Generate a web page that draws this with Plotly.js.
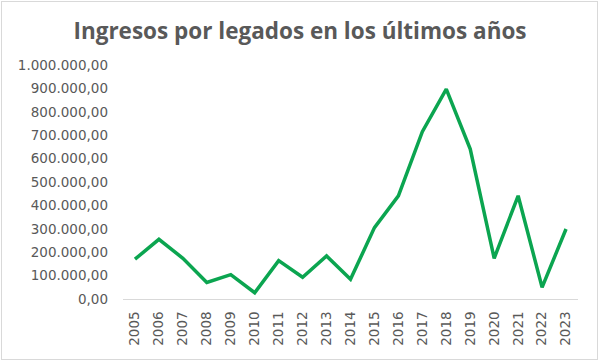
<!DOCTYPE html>
<html>
<head>
<meta charset="utf-8">
<script src="https://cdn.plot.ly/plotly-3.0.1.min.js"></script>
<style>
html,body{margin:0;padding:0;background:#fff;}
#wrap{position:absolute;left:0;top:0;width:600px;height:362px;}
#frame{position:absolute;left:1px;top:1px;width:595px;height:357px;border:1px solid #d9d9d9;pointer-events:none;}
#chart{width:600px;height:362px;}
</style>
</head>
<body>
<div id="wrap">
<div id="chart"></div>
<div id="frame"></div>
</div>
<script>
const years = ['2005','2006','2007','2008','2009','2010','2011','2012','2013','2014','2015','2016','2017','2018','2019','2020','2021','2022','2023'];
const ingresos = [170000, 255000, 174000, 71000, 104000, 27000, 164000, 93000, 184000, 84000, 305000, 441000, 715000, 897000, 641000, 174000, 441000, 50000, 299000];
const yTicks = [0, 100000, 200000, 300000, 400000, 500000, 600000, 700000, 800000, 900000, 1000000];

const tickFont = {family: 'DejaVu Sans, sans-serif', size: 13.5, color: '#595959'};

Plotly.newPlot('chart', [{
  x: years,
  y: ingresos,
  type: 'scatter',
  mode: 'lines',
  line: {color: '#0ba550', width: 3.5},
  hoverinfo: 'skip'
}], {
  width: 600, height: 362,
  margin: {l: 123, r: 22, t: 65, b: 63},
  paper_bgcolor: '#fff', plot_bgcolor: '#fff',
  separators: ',.',
  title: {text: 'Ingresos por legados en los últimos años', x: 0.5, xref: 'container', xanchor: 'center', y: 0.915, yanchor: 'middle',
          font: {family: 'Open Sans, sans-serif', size: 22.5, color: '#595959', weight: 'bold'}},
  xaxis: {type: 'category', range: [-0.5, 18.5], tickangle: -90,
          showline: true, linecolor: '#d9d9d9', linewidth: 1, showgrid: false, zeroline: false,
          ticks: '', ticklabelstandoff: 6, tickfont: tickFont},
  yaxis: {range: [0, 1000000], tickvals: yTicks, tickformat: ',.2f', showgrid: false, zeroline: false,
          showline: false, ticks: '', ticklabelstandoff: 14, tickfont: tickFont},
  showlegend: false
}, {displayModeBar: false, staticPlot: true});
</script>
</body>
</html>
